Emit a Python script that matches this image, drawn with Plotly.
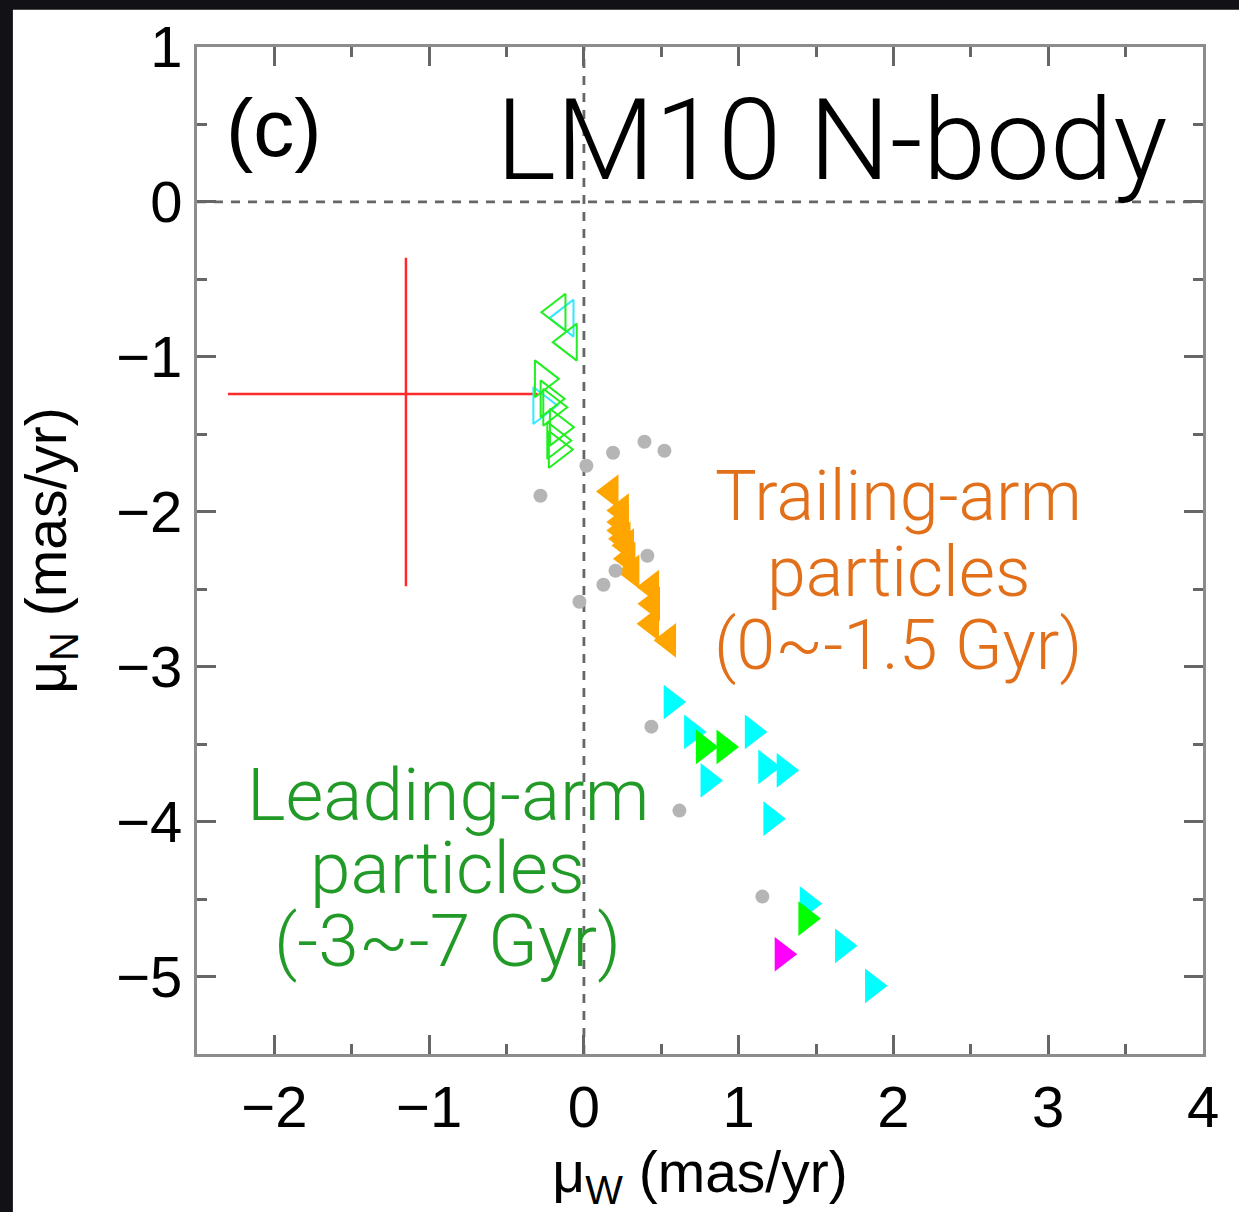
import plotly.graph_objects as go

# Proper-motion plane: mu_W (x) vs mu_N (y), mas/yr

# observed value with asymmetric errors
obs_x = [-1.15]
obs_y = [-1.24]
obs_x_plus = [0.85]
obs_x_minus = [1.15]
obs_y_plus = [0.88]
obs_y_minus = [1.24]

# grey background particles
grey_x = [-0.281, 0.016, 0.188, 0.391, 0.520, 0.410, 0.204, 0.126, -0.029, 0.436, 0.617, 1.153]
grey_y = [-1.897, -1.703, -1.619, -1.548, -1.606, -2.284, -2.381, -2.471, -2.581, -3.387, -3.929, -4.484]

# trailing-arm particles (filled, left-pointing)
trail_x = [0.175, 0.242, 0.242, 0.242, 0.253, 0.275, 0.284, 0.310, 0.437, 0.443, 0.437, 0.547]
trail_y = [-1.869, -1.992, -2.066, -2.121, -2.174, -2.218, -2.303, -2.387, -2.486, -2.594, -2.723, -2.830]

# open left-pointing particles
open_left_green_x = [-0.171, -0.098]
open_left_green_y = [-0.712, -0.905]
open_left_cyan_x = [-0.119]
open_left_cyan_y = [-0.750]

# open right-pointing particles
open_right_cyan_x = [-0.275]
open_right_cyan_y = [-1.314]
open_right_green_x = [-0.265, -0.228, -0.211, -0.168, -0.185, -0.175]
open_right_green_y = [-1.142, -1.271, -1.325, -1.454, -1.540, -1.598]

# leading-arm particles (filled, right-pointing)
lead_cyan_x = [0.564, 0.696, 1.088, 1.175, 1.294, 0.802, 1.208, 1.443, 1.671, 1.865]
lead_cyan_y = [-3.228, -3.421, -3.421, -3.647, -3.669, -3.734, -3.981, -4.529, -4.802, -5.060]
lead_green_x = [0.772, 0.905, 1.434]
lead_green_y = [-3.518, -3.518, -4.626]
lead_magenta_x = [1.281]
lead_magenta_y = [-4.856]

x_ticks = [-2, -1, 0, 1, 2, 3, 4]
y_ticks = [1, 0, -1, -2, -3, -4, -5]

fig = go.Figure()

# white page on a dark surround (added first so other shapes sit on top)
fig.add_shape(type="rect", xref="paper", yref="paper",
              x0=-0.183, x1=1.05, y0=-0.2, y1=1.037,
              fillcolor="white", line=dict(width=0), layer="below")

# dashed zero lines
fig.add_shape(type="line", xref="x", yref="paper", x0=0, x1=0, y0=0, y1=1,
              line=dict(color="#666666", width=2.8, dash="9px,8px"), layer="below")
fig.add_shape(type="line", xref="paper", yref="y", x0=0, x1=1, y0=0, y1=0,
              line=dict(color="#666666", width=2.8, dash="9px,8px"), layer="below")

fig.add_trace(go.Scatter(
    x=obs_x, y=obs_y, mode="markers",
    marker=dict(size=1, color="rgba(0,0,0,0)"),
    error_x=dict(type="data", symmetric=False, array=obs_x_plus, arrayminus=obs_x_minus,
                 color="#ff2b2b", thickness=2.5, width=0),
    error_y=dict(type="data", symmetric=False, array=obs_y_plus, arrayminus=obs_y_minus,
                 color="#ff2b2b", thickness=2.5, width=0),
))

def tri(x, y, symbol, color, size=30, open_=False):
    if open_:
        marker = dict(symbol=symbol, size=size, color=color, line=dict(color=color, width=2))
    else:
        marker = dict(symbol=symbol, size=size, color=color, line=dict(width=0))
    return go.Scatter(x=x, y=y, mode="markers", marker=marker)

fig.add_trace(tri(open_left_cyan_x, open_left_cyan_y, "triangle-left-open", "#33e8ff", 32, True))
fig.add_trace(tri(open_left_green_x, open_left_green_y, "triangle-left-open", "#22ee22", 32, True))
fig.add_trace(tri(open_right_cyan_x, open_right_cyan_y, "triangle-right-open", "#33e8ff", 32, True))
fig.add_trace(tri(open_right_green_x, open_right_green_y, "triangle-right-open", "#22ee22", 32, True))
fig.add_trace(tri(trail_x, trail_y, "triangle-left", "#ffa500"))
fig.add_trace(tri(lead_cyan_x, lead_cyan_y, "triangle-right", "#00ffff"))
fig.add_trace(tri(lead_green_x, lead_green_y, "triangle-right", "#00ff00"))
fig.add_trace(tri(lead_magenta_x, lead_magenta_y, "triangle-right", "#ff00ff"))

fig.add_trace(go.Scatter(
    x=grey_x, y=grey_y, mode="markers",
    marker=dict(symbol="circle", size=14, color="#b5b5b5", line=dict(width=0)),
))

light = dict(family="Roboto, Lato, Liberation Sans", weight=300)

def label(text, x, y, size, color):
    fig.add_annotation(x=x, y=y, xref="x", yref="y", text=text, showarrow=False,
                       xanchor="center", yanchor="middle",
                       font=dict(size=size, color=color, **light))

label("LM10 N-body", 1.60, 0.40, 114, "black")
fig.add_annotation(x=-2.0, y=0.48, xref="x", yref="y", text="(c)", showarrow=False,
                   xanchor="center", yanchor="middle",
                   font=dict(size=82, color="black", family="Liberation Sans"))

orange = "#e2701a"
label("Trailing-arm", 2.03, -1.90, 70, orange)
label("particles", 2.03, -2.39, 70, orange)
label("(0~-1.5 Gyr)", 2.03, -2.86, 70, orange)

green = "#229a27"
label("Leading-arm", -0.88, -3.83, 73, green)
label("particles", -0.88, -4.30, 73, green)
label("(-3~-7 Gyr)", -0.88, -4.77, 73, green)

axis_common = dict(
    showline=True, linecolor="#8c8c8c", linewidth=3, mirror="ticks",
    ticks="inside", ticklen=19, tickwidth=2.5, tickcolor="#666666",
    showgrid=False, zeroline=False,
    tickfont=dict(family="Liberation Sans", size=58, color="black"),
    minor=dict(ticks="inside", ticklen=10, tickwidth=2.5, tickcolor="#666666", dtick=0.5, showgrid=False),
)

fig.update_xaxes(range=[-2.5, 4], tickvals=x_ticks, ticktext=["−2", "−1", "0", "1", "2", "3", "4"],
                 title=dict(text="μ<sub>W</sub> (mas/yr)", font=dict(family="Liberation Sans", size=57, color="black"),
                            standoff=16),
                 **axis_common)
fig.update_yaxes(range=[-5.5, 1], tickvals=y_ticks, ticktext=["1", "0", "−1", "−2", "−3", "−4", "−5"],
                 title=dict(text="μ<sub>N</sub> (mas/yr)", font=dict(family="Liberation Sans", size=57, color="black"),
                            standoff=32),
                 **axis_common)

fig.update_layout(
    width=1239, height=1212,
    margin=dict(l=197, r=36, t=47, b=158),
    paper_bgcolor="#121216", plot_bgcolor="white",
    showlegend=False,
)

fig.write_html("out.html")
